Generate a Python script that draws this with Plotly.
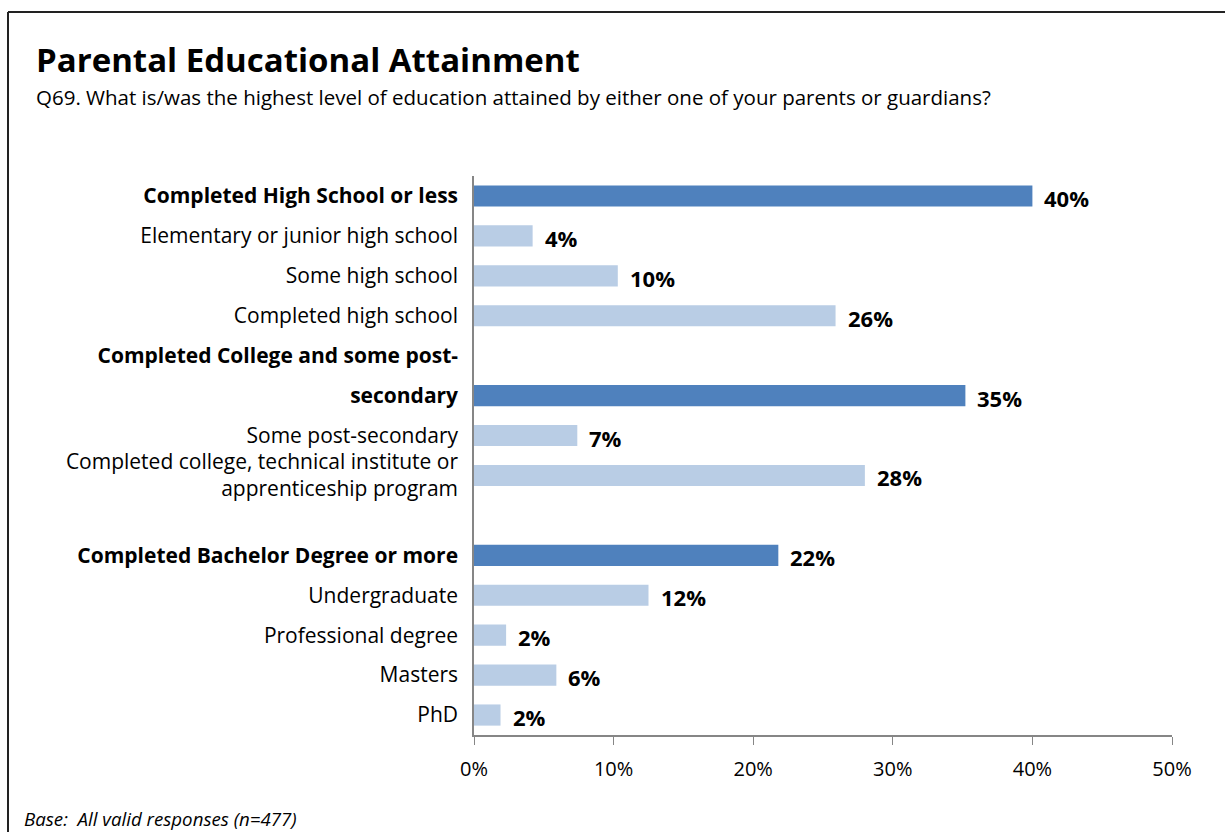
import plotly.graph_objects as go

# ---- data ----
categories = [
    "Completed High School or less",
    "Elementary or junior high school",
    "Some high school",
    "Completed high school",
    "gap1",
    "Completed College and some post-secondary",
    "Some post-secondary",
    "Completed college, technical institute or apprenticeship program",
    "gap2",
    "Completed Bachelor Degree or more",
    "Undergraduate",
    "Professional degree",
    "Masters",
    "PhD",
]
tick_labels = [
    "<b>Completed High School or less</b>",
    "Elementary or junior high school",
    "Some high school",
    "Completed high school",
    "<b>Completed College and some post-</b>",
    "<b>secondary</b>",
    "Some post-secondary",
    "Completed college, technical institute or<br>apprenticeship program",
    "",
    "<b>Completed Bachelor Degree or more</b>",
    "Undergraduate",
    "Professional degree",
    "Masters",
    "PhD",
]
bar_categories = [c for c in categories if not c.startswith("gap")]
values = [40, 4, 10, 26, 35, 7, 28, 22, 12, 2, 6, 2]
bar_lengths = [40, 4.2, 10.3, 25.9, 35.2, 7.4, 28.0, 21.8, 12.5, 2.3, 5.9, 1.9]
is_summary = [True, False, False, False, True, False, False, True, False, False, False, False]
x_ticks = [0, 10, 20, 30, 40, 50]
x_tick_labels = ["0%", "10%", "20%", "30%", "40%", "50%"]

title = "Parental Educational Attainment"
subtitle = "Q69. What is/was the highest level of education attained by either one of your parents or guardians?"
footnote = "Base:  All valid responses (n=477)"

# ---- style ----
DARK = "#4F81BD"
LIGHT = "#B9CDE5"
FONT = "Open Sans"
W, H = 1225, 832
L, R, T, B = 474, 53, 176, 97
PW, PH = W - L - R, H - T - B


def px_x(px):
    return (px - L) / PW


def px_y(py):
    return (H - B - py) / PH


fig = go.Figure()
fig.add_trace(go.Bar(
    x=bar_lengths,
    y=bar_categories,
    orientation="h",
    marker=dict(color=[DARK if s else LIGHT for s in is_summary], line=dict(width=0)),
    hoverinfo="skip",
))

for c, v, bl in zip(bar_categories, values, bar_lengths):
    fig.add_annotation(
        x=bl, y=c, xref="x", yref="y", text=f"<b>{v}%</b>", showarrow=False,
        xanchor="left", yanchor="middle", xshift=10, yshift=-2,
        font=dict(family=FONT, size=22, color="#000000"),
    )

# titles
fig.add_annotation(x=px_x(34), y=px_y(60), xref="paper", yref="paper", text=f"<b>{title}</b>",
                   showarrow=False, xanchor="left", yanchor="middle",
                   font=dict(family=FONT, size=33, color="#000000"))
fig.add_annotation(x=px_x(34), y=px_y(97), xref="paper", yref="paper", text=subtitle,
                   showarrow=False, xanchor="left", yanchor="middle",
                   font=dict(family=FONT, size=20.5, color="#000000"))
fig.add_annotation(x=px_x(22), y=px_y(818), xref="paper", yref="paper", text=f"<i>{footnote}</i>",
                   showarrow=False, xanchor="left", yanchor="middle",
                   font=dict(family=FONT, size=18.7, color="#000000"))

# outer border (top and left)
fig.add_shape(type="line", xref="paper", yref="paper", x0=px_x(8), x1=px_x(W + 5), y0=px_y(12), y1=px_y(12),
              line=dict(color="#222222", width=2))
fig.add_shape(type="line", xref="paper", yref="paper", x0=px_x(8), x1=px_x(8), y0=px_y(12), y1=px_y(H + 5),
              line=dict(color="#222222", width=2))

fig.update_layout(
    width=W, height=H,
    margin=dict(l=L, r=R, t=T, b=B, pad=0),
    paper_bgcolor="white", plot_bgcolor="white",
    showlegend=False,
    bargap=0.47,
    font=dict(family=FONT, color="#000000"),
)
fig.update_xaxes(
    range=[0, 50], tickvals=x_ticks, ticktext=x_tick_labels,
    showgrid=False, zeroline=False,
    showline=True, linecolor="#868686", linewidth=1.5,
    ticks="outside", ticklen=8, tickcolor="#868686", tickwidth=1,
    tickfont=dict(family=FONT, size=20, color="#000000"),
    ticklabelstandoff=7,
    fixedrange=True,
)
fig.update_yaxes(
    type="category", categoryorder="array", categoryarray=categories,
    autorange="reversed",
    tickvals=categories, ticktext=tick_labels,
    showgrid=False, zeroline=False,
    showline=True, linecolor="#868686", linewidth=1.5,
    ticks="", tickfont=dict(family=FONT, size=21, color="#000000"),
    ticklabelstandoff=10,
    fixedrange=True,
)

fig.write_html("out.html", config={"displayModeBar": False},
               post_script="document.body.style.margin='0';")
